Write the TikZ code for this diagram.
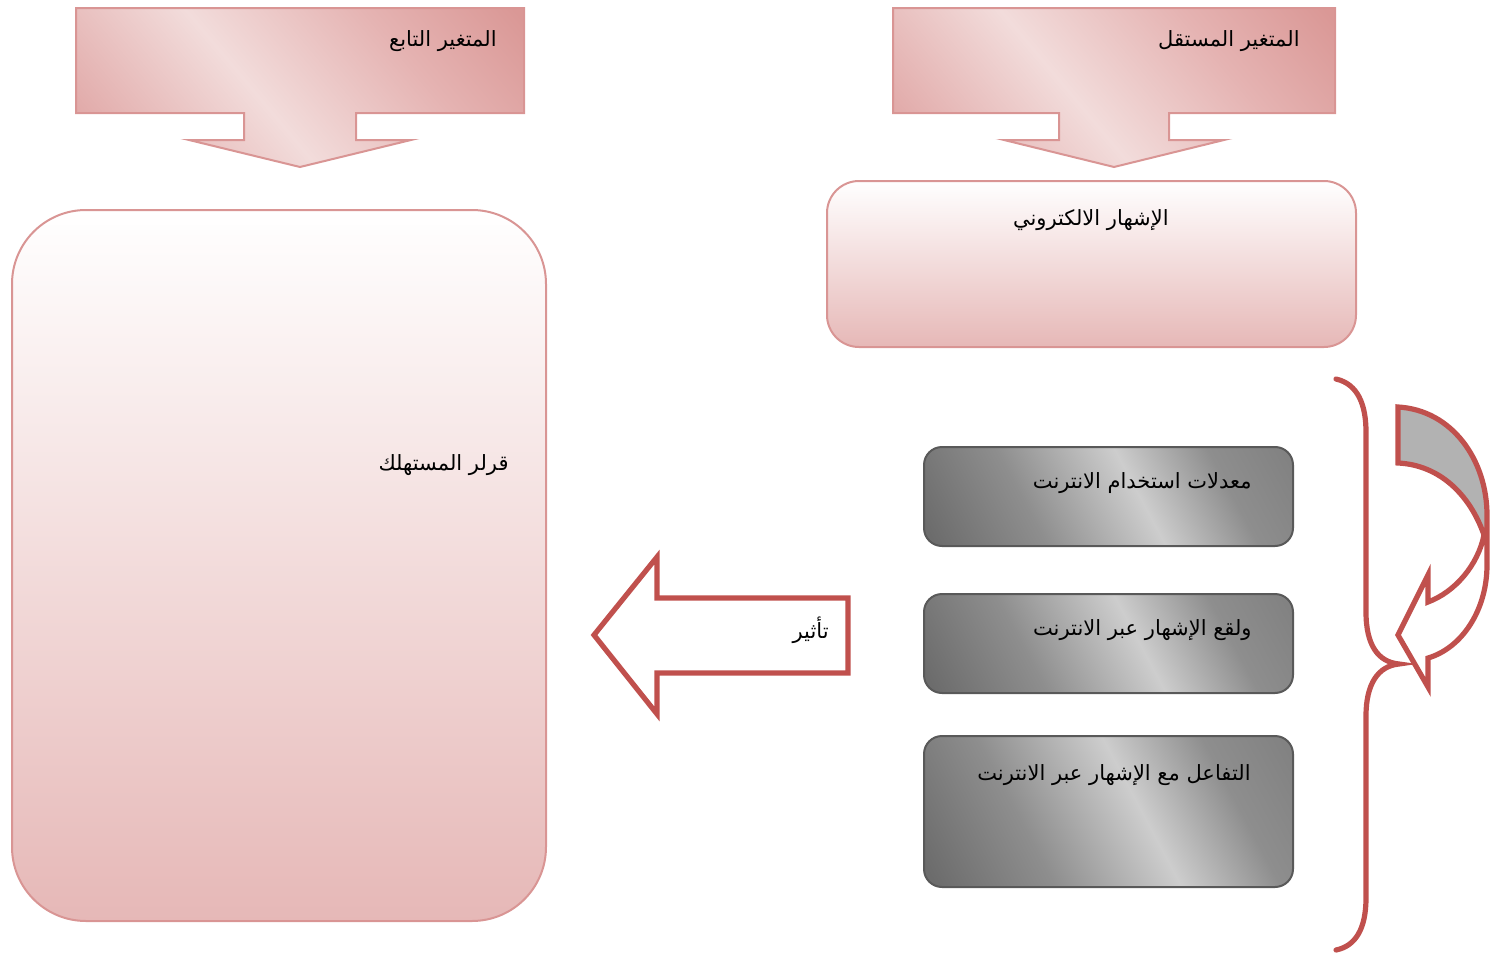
\documentclass[tikz,border=0pt]{standalone}
\usepackage{fontspec}
\newfontfamily\arabicfont[Script=Arabic]{DejaVu Sans}
\TeXXeTstate=1

\definecolor{pkEdge}{HTML}{D99594}
\definecolor{pkDeep}{HTML}{DA9896}
\definecolor{pkMid}{HTML}{E5B3B2}
\definecolor{pkSoft}{HTML}{E1A9A8}
\definecolor{pkLight}{HTML}{F2DCDB}
\definecolor{pkBottom}{HTML}{E6B8B7}
\definecolor{redLine}{HTML}{C0504D}
\definecolor{gyDark}{HTML}{6C6C6C}
\definecolor{gyMid}{HTML}{8E8E8E}
\definecolor{gyLight}{HTML}{CDCDCD}
\definecolor{gyRight}{HTML}{7C7C7C}
\definecolor{gyEdge}{HTML}{595959}
\definecolor{gyFill}{HTML}{B2B2B2}

% diagonal band shadings for the header callouts and the grey boxes
\pgfdeclarehorizontalshading{pinkband}{100bp}{%
  color(0bp)=(pkSoft); color(20bp)=(pkSoft); color(44bp)=(pkLight);
  color(66bp)=(pkMid); color(84bp)=(pkDeep); color(100bp)=(pkDeep)}
\pgfdeclarehorizontalshading{greyband}{100bp}{%
  color(0bp)=(gyDark); color(18bp)=(gyDark); color(36bp)=(gyMid);
  color(55bp)=(gyLight); color(70bp)=(gyMid); color(88bp)=(gyRight);
  color(100bp)=(gyRight)}

\tikzset{
  callout/.style={draw=pkEdge, line width=1pt, shading=pinkband, shading angle=40},
  pinkbox/.style={draw=pkEdge, line width=1pt, top color=white, bottom color=pkBottom},
  greybox/.style={draw=gyEdge, line width=1pt, shading=greyband, shading angle=28,
    rounded corners=9pt},
  redline/.style={draw=redLine, line width=2.6pt},
  label/.style={anchor=east, inner sep=0pt, font=\arabicfont\fontsize{10.5}{12}\selectfont}
}

\begin{document}
\begin{tikzpicture}[x=0.5pt, y=-0.5pt]
\useasboundingbox (0,0) rectangle (1501,953);

% header callouts
\path[callout] (76,8) -- (524,8) -- (524,113) -- (356,113) -- (356,140) -- (411,140)
  -- (300,167) -- (189,140) -- (244,140) -- (244,113) -- (76,113) -- cycle;
\path[callout] (893,8) -- (1335,8) -- (1335,113) -- (1169,113) -- (1169,140) -- (1224,140)
  -- (1114,167) -- (1004,140) -- (1059,140) -- (1059,113) -- (893,113) -- cycle;

% pink boxes
\path[pinkbox, rounded corners=16pt] (827,181) rectangle (1356,347);
\path[pinkbox, rounded corners=37pt] (12,210) rectangle (546,921);

% grey boxes
\path[greybox] (924,447) rectangle (1293,546);
\path[greybox] (924,594) rectangle (1293,693);
\path[greybox] (924,736) rectangle (1293,887);

% block arrow pointing left
\draw[redline, miter limit=10] (594,635) -- (657,557) -- (657,598) -- (848,598)
  -- (848,673) -- (657,673) -- (657,714) -- cycle;

% curly brace
\draw[redline, line cap=round] (1336,379) .. controls (1358,384) and (1366,405) .. (1366,432)
  -- (1366,612) .. controls (1366,645) and (1378,662) .. (1399,664)
  .. controls (1378,666) and (1366,684) .. (1366,716)
  -- (1366,898) .. controls (1366,928) and (1356,946) .. (1336,950);

% curved arrow
\fill[gyFill] (1398,407) .. controls (1452,410) and (1487,460) .. (1487,515)
  -- (1487,535) -- (1484,535) .. controls (1470,495) and (1440,465) .. (1398,463) -- cycle;
\draw[redline, line join=miter] (1398,407) .. controls (1452,410) and (1487,460) .. (1487,515)
  -- (1487,565) .. controls (1487,610) and (1462,648) .. (1428,658)
  -- (1428,687) -- (1398,635) -- (1428,575) -- (1428,602)
  .. controls (1455,592) and (1478,565) .. (1484,535)
  .. controls (1470,495) and (1440,465) .. (1398,463) -- cycle;

% labels
\node[label] (dep)   at (497,41)  {\beginR المتغير التابع\endR};
\node[label] (indep) at (1300,41) {\beginR المتغير المستقل\endR};
\node[label] (eadv)  at (1169,220) {\beginR الإشهار الالكتروني\endR};
\node[label] (dec)   at (509,465) {\beginR قرلر المستهلك\endR};
\node[label] (use)   at (1252,483) {\beginR معدلات استخدام الانترنت\endR};
\node[label] (real)  at (1252,630) {\beginR ولقع الإشهار عبر الانترنت\endR};
\node[label] (inter) at (1251,775) {\beginR التفاعل مع الإشهار عبر الانترنت\endR};
\node[label] (eff)   at (829,630) {\beginR تأثير\endR};
\end{tikzpicture}
\end{document}
